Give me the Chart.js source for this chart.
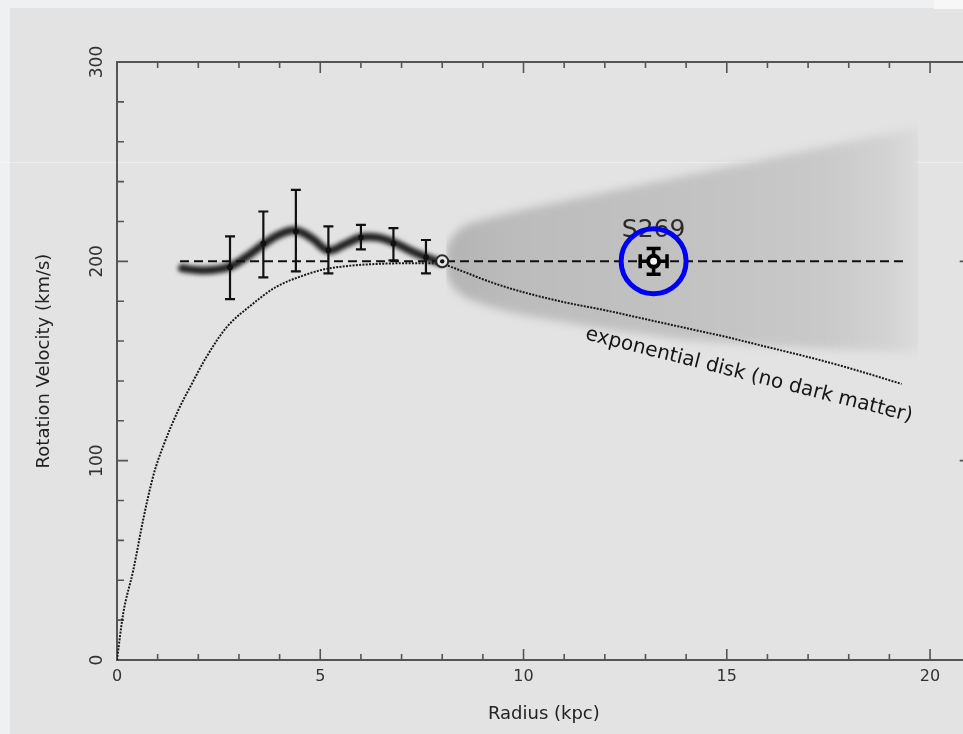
<!DOCTYPE html>
<html>
<head>
<meta charset="utf-8">
<script src="https://cdn.jsdelivr.net/npm/chart.js@4.4.1/dist/chart.umd.min.js"></script>
<style>
  html, body { margin: 0; padding: 0; overflow: hidden; background: #eef0f2; }
  #wrap { position: absolute; left: 0; top: 0; width: 1000px; height: 734px; }
</style>
</head>
<body>
<div id="wrap"><canvas id="c" width="1000" height="734"></canvas></div>
<script>
// Labelled ticks on each axis
const radiusTicks = [0, 5, 10, 15, 20];
const velocityTicks = [0, 100, 200, 300];

// Smoothed measured rotation curve (kpc, km/s)
const traceR = [1.6, 2.0, 2.4, 2.8, 3.2, 3.6, 4.0, 4.4, 4.8, 5.2, 5.6, 6.0, 6.4, 6.8, 7.2, 7.6, 7.95];
const traceV = [196.5, 195.5, 195.8, 197.5, 202.5, 208.5, 213.5, 215.5, 211.5, 205.5, 208.5, 212, 212, 209.5, 205.5, 202, 199.5];

// Binned measurements with their error bars
const binR = [2.78, 3.6, 4.4, 5.2, 6.0, 6.8, 7.6];
const binV = [197, 209, 215, 205.5, 212, 209, 202];
const binLo = [181, 192, 195, 194, 206, 200.5, 194];
const binHi = [212.5, 225, 235.8, 217.5, 218.3, 216.7, 210.7];

// Flat 200 km/s reference line
const flatR = [1.55, 19.35];
const flatV = [200, 200];

// Exponential disk model without dark matter
const diskR = [0, 0.15, 0.4, 0.65, 0.9, 1.15, 1.5, 1.8, 2.2, 2.7, 3.3, 3.9, 4.6, 5.1, 5.6, 6.2, 7.0, 7.6, 8.0, 8.5, 9.0, 9.5, 10, 11, 12, 13, 14, 15, 16, 17, 18, 19.3];
const diskV = [0, 23, 45, 71, 93, 108, 125, 137, 152, 167, 178, 187, 193, 196, 197.5, 198.5, 199, 199, 198.5, 195, 191, 187.5, 184.5, 179.5, 175.5, 171, 166.5, 162, 157, 152, 146.5, 138.5];

// Outer-galaxy uncertainty envelope
const bandR = [8.1, 8.3, 8.6, 9.2, 10, 12, 14, 16, 18, 19.7];
const bandTop = [207, 214, 218.5, 222, 226, 234.5, 243, 251.5, 260, 267];
const bandBottom = [193, 186, 181.5, 177, 173, 166, 160.5, 157.5, 155.5, 154.5];

// Solar position
const sunR = [8.0];
const sunV = [200];

// HII region S269
const s269R = [13.2];
const s269V = [200];
const s269Rerr = [0.33];
const s269Verr = [6.5];

const pts = (xs, ys) => xs.map((x, i) => ({ x: x, y: ys[i] }));
const FONT = '"DejaVu Sans", "Liberation Sans", sans-serif';

// Panel background, axis frame and inward tick marks on all four sides
const framePlugin = {
  id: 'frame',
  beforeDraw(chart) {
    const c = chart.ctx;
    c.save();
    c.fillStyle = '#eef0f2';
    c.fillRect(0, 0, chart.width, chart.height);
    c.fillStyle = '#e3e3e3';
    c.fillRect(10, 8, chart.width - 10, chart.height - 8);
    c.fillStyle = '#f7f7f7';
    c.fillRect(934, 0, chart.width - 934, 9);
    c.fillStyle = 'rgba(255,255,255,0.35)';
    c.fillRect(0, 162, chart.width, 1);
    c.restore();
  },
  beforeDatasetsDraw(chart) {
    const { ctx, chartArea: a, scales: { x, y } } = chart;
    ctx.save();
    ctx.strokeStyle = '#555';
    ctx.lineWidth = 2;
    ctx.strokeRect(a.left, a.top, a.right - a.left, a.bottom - a.top);
    ctx.lineWidth = 1.6;
    ctx.beginPath();
    x.ticks.forEach(t => {
      const px = x.getPixelForValue(t.value);
      const len = radiusTicks.includes(t.value) ? 11 : 6;
      ctx.moveTo(px, a.bottom); ctx.lineTo(px, a.bottom - len);
      ctx.moveTo(px, a.top); ctx.lineTo(px, a.top + len);
    });
    y.ticks.forEach(t => {
      const py = y.getPixelForValue(t.value);
      const len = velocityTicks.includes(t.value) ? 11 : 7;
      ctx.moveTo(a.left, py); ctx.lineTo(a.left + len, py);
      ctx.moveTo(a.right, py); ctx.lineTo(a.right - len, py);
    });
    ctx.stroke();
    ctx.restore();
  }
};

// Soft edges: the envelope fill is painted by the filler inside its own
// beforeDatasetDraw, so the blur must already be active when datasets start.
const softPlugin = {
  id: 'soft',
  beforeDatasetsDraw(chart) {
    chart.ctx.save();
    chart.ctx.filter = 'blur(4px)';
    chart.$haze = true;
  },
  beforeDatasetDraw(chart, args) {
    const ds = chart.data.datasets[args.index];
    const { ctx, scales: { x, y } } = chart;
    if (ds.softness) {
      ctx.save();
      ctx.filter = 'blur(' + ds.softness + 'px)';
    }
    if (ds.role === 's269') {
      // cross-shaped error bars under the marker
      ctx.save();
      ctx.strokeStyle = '#000';
      ctx.lineWidth = 3.5;
      ctx.beginPath();
      s269R.forEach((r, i) => {
        const px = x.getPixelForValue(r), py = y.getPixelForValue(s269V[i]);
        const yt = y.getPixelForValue(s269V[i] + s269Verr[i]);
        const yb = y.getPixelForValue(s269V[i] - s269Verr[i]);
        const xl = x.getPixelForValue(r - s269Rerr[i]);
        const xr = x.getPixelForValue(r + s269Rerr[i]);
        ctx.moveTo(px, yt); ctx.lineTo(px, yb);
        ctx.moveTo(xl, py); ctx.lineTo(xr, py);
        ctx.moveTo(px - 7, yt); ctx.lineTo(px + 7, yt);
        ctx.moveTo(px - 7, yb); ctx.lineTo(px + 7, yb);
        ctx.moveTo(xl, py - 7); ctx.lineTo(xl, py + 7);
        ctx.moveTo(xr, py - 7); ctx.lineTo(xr, py + 7);
      });
      ctx.stroke();
      ctx.restore();
    }
  },
  afterDatasetDraw(chart, args) {
    const ds = chart.data.datasets[args.index];
    const { ctx, scales: { x, y } } = chart;
    if (ds.softness) ctx.restore();
    if (chart.$haze) { ctx.restore(); chart.$haze = false; }
    if (ds.role === 'bins') {
      ctx.save();
      ctx.strokeStyle = '#111';
      ctx.lineWidth = 2.2;
      ctx.beginPath();
      binR.forEach((r, i) => {
        const px = x.getPixelForValue(r);
        const yt = y.getPixelForValue(binHi[i]);
        const yb = y.getPixelForValue(binLo[i]);
        ctx.moveTo(px, yt); ctx.lineTo(px, yb);
        ctx.moveTo(px - 5, yt); ctx.lineTo(px + 5, yt);
        ctx.moveTo(px - 5, yb); ctx.lineTo(px + 5, yb);
      });
      ctx.stroke();
      ctx.restore();
    }
    if (ds.role === 's269') {
      ctx.save();
      ctx.fillStyle = '#2b2b2b';
      ctx.font = '25px ' + FONT;
      ctx.textAlign = 'center';
      ctx.textBaseline = 'alphabetic';
      ctx.fillText('S269', x.getPixelForValue(s269R[0]), y.getPixelForValue(s269V[0]) - 24);
      ctx.restore();
    }
  },
  afterDatasetsDraw(chart) {
    const { ctx, scales: { x, y } } = chart;
    ctx.save();
    ctx.translate(x.getPixelForValue(11.5), y.getPixelForValue(161));
    ctx.rotate(14.2 * Math.PI / 180);
    ctx.fillStyle = '#161616';
    ctx.font = '20px ' + FONT;
    ctx.textAlign = 'left';
    ctx.textBaseline = 'alphabetic';
    ctx.fillText('exponential disk (no dark matter)', 0, 0);
    ctx.restore();
  }
};

function bandFill(context) {
  const chart = context.chart;
  if (!chart.chartArea || !chart.scales.x) return '#c4c4c4';
  const xs = chart.scales.x;
  const x0 = xs.getPixelForValue(bandR[0]);
  const x1 = xs.getPixelForValue(bandR[bandR.length - 1]);
  const g = chart.ctx.createLinearGradient(x0, 0, x1, 0);
  g.addColorStop(0, '#b4b4b4');
  g.addColorStop(0.15, '#bcbcbc');
  g.addColorStop(0.55, '#c3c3c3');
  g.addColorStop(0.8, '#c9c9c9');
  g.addColorStop(0.93, '#d2d2d2');
  g.addColorStop(1, '#dbdbdb');
  return g;
}

const none = 'rgba(0,0,0,0)';

new Chart(document.getElementById('c'), {
  type: 'scatter',
  data: {
    datasets: [
      { data: pts(bandR, bandTop), showLine: true, fill: '+1', backgroundColor: bandFill,
        borderColor: none, borderWidth: 0, pointRadius: 0, order: 11 },
      { data: pts(bandR, bandBottom), showLine: true, fill: false,
        borderColor: none, borderWidth: 0, pointRadius: 0, order: 10 },
      { data: pts(diskR, diskV), showLine: true, cubicInterpolationMode: 'monotone',
        borderColor: '#1a1a1a', borderWidth: 2, borderDash: [2, 1.3], pointRadius: 0, order: 8 },
      { data: pts(traceR, traceV), showLine: true, tension: 0.4, softness: 2.2,
        borderColor: '#1e1e1e', borderWidth: 8, borderCapStyle: 'round', pointRadius: 0, order: 7 },
      { data: pts(flatR, flatV), showLine: true, borderColor: '#111', borderWidth: 2,
        borderDash: [9, 5], pointRadius: 0, order: 6 },
      { data: pts(binR, binV), role: 'bins', pointRadius: 3, pointBackgroundColor: '#111',
        pointBorderWidth: 0, order: 5 },
      { data: pts(sunR, sunV), pointRadius: 6, pointBorderWidth: 2, pointBorderColor: '#2a2a2a',
        pointBackgroundColor: '#e6e6e6', order: 4 },
      { data: pts(sunR, sunV), pointRadius: 2.2, pointBorderWidth: 0, pointBackgroundColor: '#111', order: 3.5 },
      { data: pts(s269R, s269V), role: 's269', pointRadius: 5.5, pointBorderWidth: 4,
        pointBorderColor: '#000', pointBackgroundColor: '#f4f4f4', order: 3 },
      { data: pts(s269R, s269V), pointRadius: 32.5, pointBorderWidth: 5, pointBorderColor: '#0000f2',
        pointBackgroundColor: none, order: 1 }
    ]
  },
  options: {
    responsive: false,
    devicePixelRatio: 1,
    animation: false,
    events: [],
    layout: { autoPadding: false, padding: { left: 0, top: 62, right: 29.3, bottom: 0 } },
    plugins: { legend: { display: false }, tooltip: { enabled: false } },
    scales: {
      x: {
        type: 'linear', min: 0, max: 21,
        afterFit(s) { s.height = 74; },
        grid: { display: false, drawTicks: false },
        border: { display: false },
        ticks: {
          stepSize: 1, autoSkip: false, maxRotation: 0, padding: 7, color: '#333',
          font: { family: FONT, size: 16 },
          callback: v => radiusTicks.includes(v) ? String(v) : ''
        },
        title: {
          display: true, text: 'Radius (kpc)', color: '#222',
          font: { family: FONT, size: 18 }, padding: { top: 0, bottom: 9 }
        }
      },
      y: {
        type: 'linear', min: 0, max: 300,
        afterFit(s) { s.width = 117; },
        grid: { display: false, drawTicks: false },
        border: { display: false },
        ticks: {
          stepSize: 20, autoSkip: false, minRotation: 90, maxRotation: 90,
          crossAlign: 'center', padding: 3, color: '#333',
          font: { family: FONT, size: 17 },
          callback: v => velocityTicks.includes(v) ? String(v) : ''
        },
        title: {
          display: true, text: 'Rotation Velocity (km/s)', color: '#222',
          font: { family: FONT, size: 18 }, padding: { top: 34, bottom: 0 }
        }
      }
    }
  },
  plugins: [framePlugin, softPlugin]
});
</script>
</body>
</html>
